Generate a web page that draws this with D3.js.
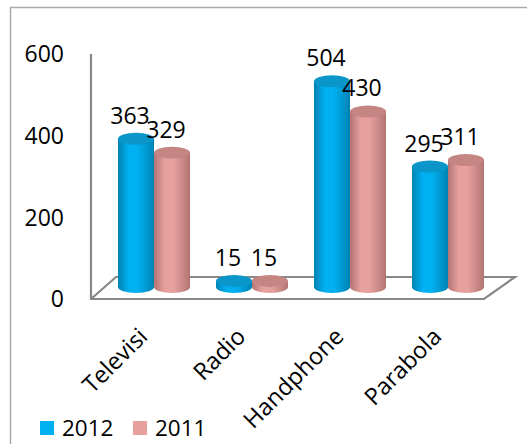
<!DOCTYPE html>
<html><head><meta charset="utf-8">
<script src="https://cdn.jsdelivr.net/npm/d3@7"></script>
<style>body{margin:0;background:#fff}svg{display:block}text{font-family:"Open Sans",Lato,sans-serif;fill:#000}</style>
</head><body>
<script>
const categories = ["Televisi","Radio","Handphone","Parabola"];
const seriesNames = ["2012","2011"];
const values2012 = [363,15,504,295];
const values2011 = [329,15,430,311];
const yTicks = [0,200,400,600];
const colors = {"2012":{base:"#00B0F0",dark:"#0083b3",top:"#0a96c8"},"2011":{base:"#E6A09E",dark:"#b27472",top:"#c58583"}};

const W=527,H=444;
const svg=d3.select("body").append("svg").attr("width",W).attr("height",H);
const defs=svg.append("defs");
seriesNames.forEach((s,i)=>{
  const g=defs.append("linearGradient").attr("id","g"+i).attr("x1","0").attr("x2","1").attr("y1","0").attr("y2","0");
  g.append("stop").attr("offset","0%").attr("stop-color",colors[s].dark);
  g.append("stop").attr("offset","30%").attr("stop-color",colors[s].base);
  g.append("stop").attr("offset","55%").attr("stop-color",colors[s].base);
  g.append("stop").attr("offset","100%").attr("stop-color",colors[s].dark);
});

// outer border
svg.append("path").attr("d","M10.5,"+H+"V7.5H"+W).attr("fill","none").attr("stroke","#aaa").attr("stroke-width",1.5);

const yA=d3.scaleLinear().domain([0,600]).range([299,54]);
const yB=d3.scaleLinear().domain([0,600]).range([287,42]);
const x0=d3.scaleBand().domain(categories).range([105,497]).paddingInner(0.265).paddingOuter(0.1325);
const x1=d3.scaleBand().domain(seriesNames).range([0,x0.bandwidth()]);

// floor and axis
svg.append("path").attr("d","M91,54V299H484L515,277H116L91,299").attr("fill","none").attr("stroke","#888").attr("stroke-width",2.2).attr("stroke-linejoin","miter");

// y tick labels
svg.append("g").selectAll("text").data(yTicks).join("text")
  .attr("x",64).attr("y",d=>yA(d)).attr("dy","0.36em").attr("text-anchor","end")
  .attr("font-size",23).text(d=>d);

const data=categories.map((c,i)=>({cat:c,vals:[{s:"2012",v:values2012[i],k:0},{s:"2011",v:values2011[i],k:1}]}));
const ry=6;
const grp=svg.append("g").selectAll("g").data(data).join("g");
grp.each(function(d){
  const g=d3.select(this);
  d.vals.forEach(b=>{
    const xl=x0(d.cat)+x1(b.s), w=x1.bandwidth(), cx=xl+w/2, rx=w/2;
    const yt=yB(b.v), yb=yB(0);
    g.append("path")
      .attr("d",`M${xl},${yt}V${yb}A${rx},${ry} 0 0 0 ${xl+w},${yb}V${yt}Z`)
      .attr("fill",`url(#g${b.k})`);
    g.append("ellipse").attr("cx",cx).attr("cy",yt).attr("rx",rx).attr("ry",ry)
      .attr("fill",colors[b.s].top);
    g.append("text").attr("x",cx-6).attr("y",yt-15).attr("text-anchor","middle")
      .attr("font-size",23).text(b.v);
  });
});

// category labels
svg.append("g").selectAll("text").data(categories).join("text")
  .attr("transform",d=>`translate(${x0(d)+x0.bandwidth()/2-5},${338}) rotate(-45)`)
  .attr("text-anchor","end").attr("font-size",23.5).text(d=>d);

// legend
const leg=svg.append("g").selectAll("g").data(seriesNames).join("g")
  .attr("transform",(d,i)=>`translate(${40+i*93},421)`);
leg.append("rect").attr("width",14).attr("height",14).attr("fill",d=>colors[d].base);
leg.append("text").attr("x",22).attr("y",14.5).attr("font-size",22.5).text(d=>d);
</script>
</body></html>
